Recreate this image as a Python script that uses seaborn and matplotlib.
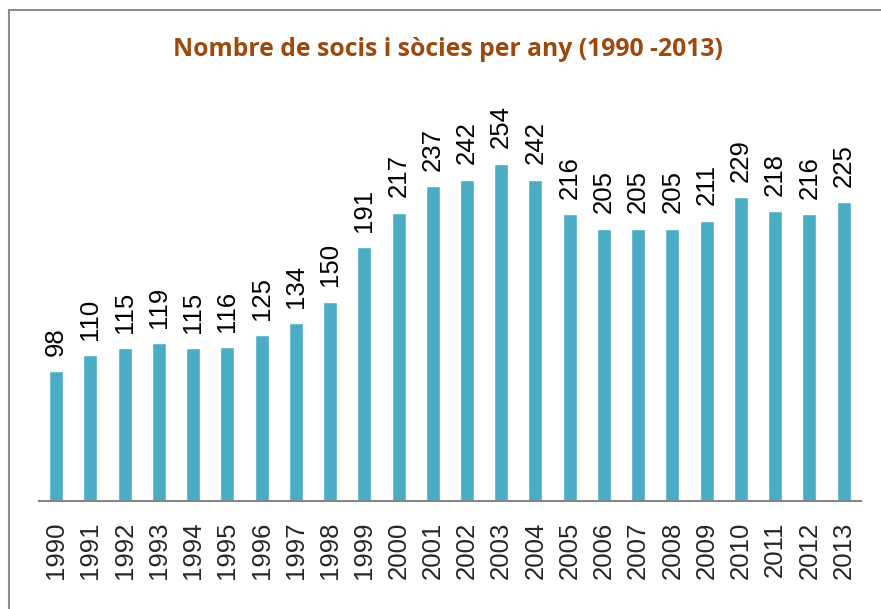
import matplotlib
matplotlib.use("Agg")
import matplotlib.pyplot as plt
import seaborn as sns
import pandas as pd
from matplotlib.patches import Rectangle

years = [str(y) for y in range(1990, 2014)]
members = [98, 110, 115, 119, 115, 116, 125, 134, 150, 191, 217, 237,
           242, 254, 242, 216, 205, 205, 205, 211, 229, 218, 216, 225]
title = "Nombre de socis i sòcies per any (1990 -2013)"

df = pd.DataFrame({"Any": years, "Socis": members})

sns.set_theme(style="white")
plt.rcParams['font.family'] = ['Liberation Sans', 'DejaVu Sans']

fig = plt.figure(figsize=(8.81, 6.09), dpi=100)
ax = fig.add_axes([0.0443, 0.1773, 0.9327, 0.7242])

sns.barplot(data=df, x="Any", y="Socis", color="#4BACC6", saturation=1,
            width=0.41, ax=ax)

ax.bar_label(ax.containers[0], labels=[str(v) for v in members],
             rotation=90, padding=11, fontsize=18.5, color="black")

ax.set_xlim(-0.5, len(years) - 0.5)
ax.set_ylim(0, 332)
ax.set_xlabel("")
ax.set_ylabel("")
ax.set_yticks([])
ax.tick_params(axis="x", rotation=90, labelsize=18.5, length=0, pad=15)
for sp in ["top", "right", "left"]:
    ax.spines[sp].set_visible(False)
ax.spines["bottom"].set_color("#868686")
ax.spines["bottom"].set_linewidth(1.5)

fig.text(0.508, 0.918, title, ha="center", va="center", fontsize=17.8,
         fontweight="bold", color="#9C4A0E", family=["Open Sans", "DejaVu Sans"])

# chart frame
fig.patches.append(Rectangle((9 / 881, -0.2), 1.2, 1.2 - 10 / 609,
                             transform=fig.transFigure, fill=False,
                             edgecolor="#8C8C8C", linewidth=1.5))

fig.savefig("out.png", dpi=100)
